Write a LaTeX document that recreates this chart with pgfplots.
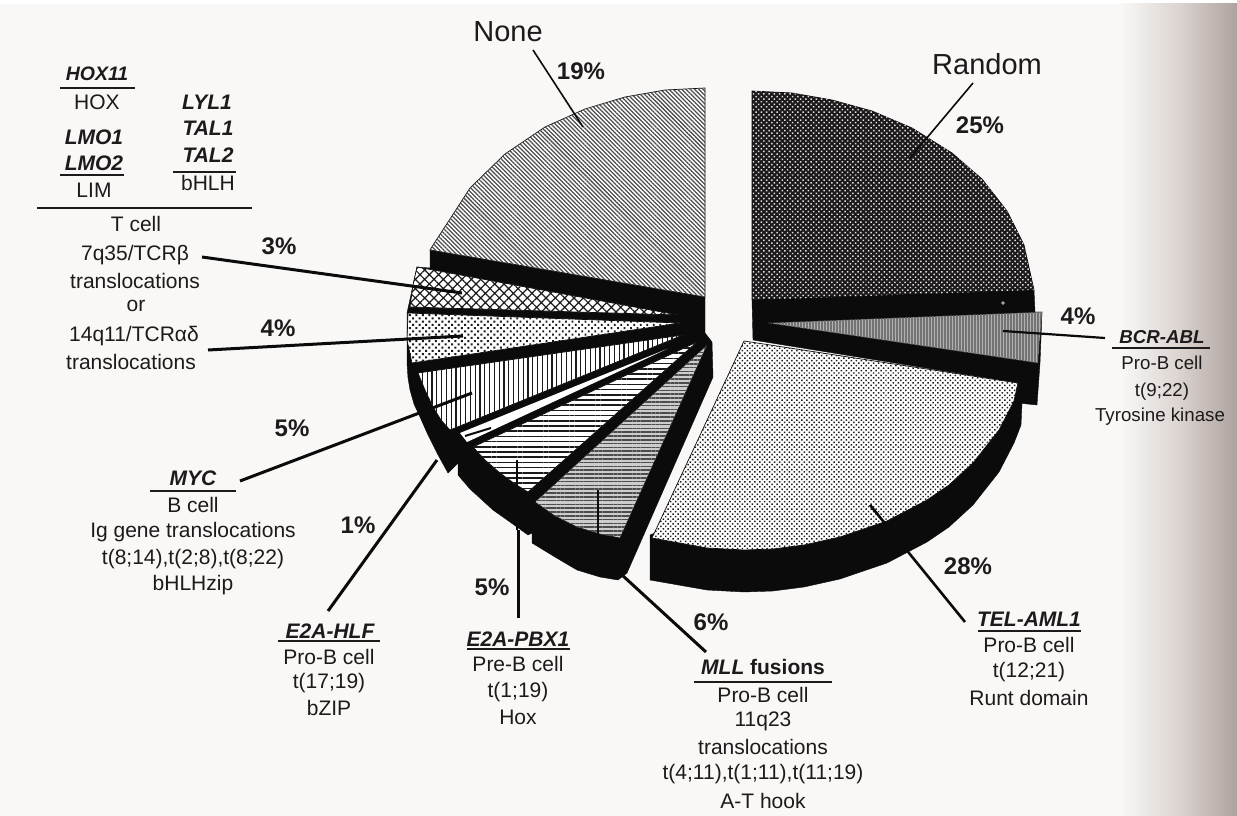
\documentclass[border=0pt]{standalone}
\usepackage{fontspec}
\setmainfont{Liberation Sans}
\usepackage{pgfplots}
\pgfplotsset{compat=1.18}
\usetikzlibrary{patterns.meta}
\definecolor{paper}{HTML}{F9F8F6}
\definecolor{ink}{HTML}{1C1A1A}
\definecolor{deep}{HTML}{0C0B0B}
\definecolor{shadeA}{HTML}{DDD5D2}
\definecolor{shadeB}{HTML}{ADA29E}

% One slice of the pie: white ground, outline and a hatch on top
\newcommand{\slice}[2]{%
  \addplot[draw=deep, line width=0.7pt, fill=white] coordinates {#2} -- cycle;
  \addplot[draw=none, #1] coordinates {#2} -- cycle;
}
\newcommand{\solid}[1]{\addplot[draw=deep, line width=0.4pt, fill=deep] coordinates {#1} -- cycle;}
\newcommand{\leader}[2]{\addplot[draw=deep, line width=#1] coordinates {#2};}

\tikzset{
  lbl/.style={font=\fontsize{21}{23}\selectfont, text=ink, anchor=center, inner sep=0pt},
  gene/.style={font=\fontsize{21}{23}\selectfont\bfseries\itshape, text=ink, anchor=center, inner sep=0pt},
  pct/.style={font=\fontsize{24}{26}\selectfont\bfseries, text=ink, anchor=center, inner sep=0pt},
  big/.style={font=\fontsize{29}{31}\selectfont, text=ink, anchor=center, inner sep=0pt},
  rule/.style={draw=ink, line width=1.3pt},
}

\begin{document}
\begin{tikzpicture}
\begin{axis}[
  width=1237pt, height=816pt, scale only axis,
  xmin=0, xmax=1237, ymin=0, ymax=816, y dir=reverse,
  enlargelimits=false, hide axis, clip=true,
]
% page and the shadow of the book's gutter
\fill[white] (0,0) rectangle (1237,816);
\fill[paper] (0,4) rectangle (1237,816);
\fill[left color=paper, right color=shadeA] (1120,4) rectangle (1177,816);
\fill[left color=shadeA, right color=shadeB] (1177,4) rectangle (1237,816);

% depth of the left half of the pie
\solid{(430,250)(705,297)(705,333)(712,342)(713,377)(627,573)(618,580)(600,577)(577,570)(555,557)(532,543)(532,533)(528,535)(510,522)(493,510)(470,489)(458,475)(458,463)(448,473)(437,453)(428,435)(420,417)(414,404)(410,390)(408,378)(407,363)(407,313)(417,267)(430,268)}
% depth of the right half, above and below BCR-ABL
\solid{(752,300)(1034,290)(1035,312)(1042,312)(1040,363)(1037,405)(1018,403)(1018,383)(753,340)}
% depth of TEL-AML1
\solid{(650,535)(650,580)(707,590)(744,592)(773,591)(804,587)(840,579)(887,563)(927,542)(949,527)(973,505)(999,472)(1014,443)(1021,425)(1022,403)(1018,383)}

% Random 25
\addplot[draw=deep, line width=0.7pt, fill=ink] coordinates {(752,91)(792,93)(832,100)(872,111)(912,128)(952,153)(982,179)(1007,211)(1024,245)(1034,290)(752,300)} -- cycle;
\addplot[draw=none, pattern={Dots[radius=1.05pt, distance=3.7pt, angle=45]}, pattern color=white!88!black] coordinates {(752,91)(792,93)(832,100)(872,111)(912,128)(952,153)(982,179)(1007,211)(1024,245)(1034,290)(752,300)} -- cycle;
% None 19
\slice{pattern={Lines[angle=-45, distance=3pt, line width=1.25pt]}, pattern color=black!70}{(705,88)(665,90)(625,97)(585,109)(545,127)(505,154)(470,188)(450,219)(435,242)(430,250)(705,297)}
% T cell, 3 and 4
\slice{pattern={Hatch[angle=45, distance=6.6pt, line width=1.2pt]}, pattern color=ink}{(417,267)(413,285)(410,307)(678,315)}
\slice{pattern={Dots[radius=1.3pt, distance=4.6pt, angle=45]}, pattern color=ink}{(408,313)(407,340)(412,363)(680,323)}
% MYC 5
\slice{pattern={Lines[angle=90, distance=4.8pt, line width=1.25pt]}, pattern color=ink}{(418,373)(425,390)(433,407)(441,420)(450,430)(683,335)}
% E2A-HLF 1
\addplot[draw=none, fill=white] coordinates {(460,433)(467,442)(667,349)} -- cycle;
% E2A-PBX1 5
\slice{pattern={Lines[angle=0, distance=5.2pt, line width=1.5pt]}, pattern color=ink}{(473,447)(485,460)(500,473)(515,484)(528,492)(697,342)}
% MLL 6
\addplot[draw=deep, line width=0.5pt, fill=black!20] coordinates {(535,502)(555,516)(577,527)(600,534)(620,538)(707,345)} -- cycle;
\addplot[draw=none, pattern={Lines[angle=0, distance=3.8pt, line width=1.5pt]}, pattern color=black!70] coordinates {(535,502)(555,516)(577,527)(600,534)(620,538)(707,345)} -- cycle;
% BCR-ABL 4
\addplot[draw=deep, line width=0.5pt, fill=black!30] coordinates {(768,323)(1042,312)(1038,363)} -- cycle;
\addplot[draw=none, pattern={Lines[angle=90, distance=3pt, line width=1.2pt]}, pattern color=black!55] coordinates {(768,323)(1042,312)(1038,363)} -- cycle;
% TEL-AML1 28
\slice{pattern={Dots[radius=1.05pt, distance=3.5pt, angle=45]}, pattern color=ink}{(744,341)(1018,383)(1014,401)(999,430)(973,463)(949,485)(927,500)(887,521)(840,537)(804,545)(773,549)(744,550)(707,548)(652,538)}

% small speck in the depth of Random
\addplot[only marks, mark=*, mark size=1.8pt, mark options={fill=black!35, draw=black!60}] coordinates {(1003,303)};

% leader lines
\leader{1.6pt}{(533,50)(583,127)}
\leader{1.6pt}{(973,83)(910,158)}
\leader{2.2pt}{(1003,331)(1105,338)}
\leader{3pt}{(202,257)(462,293)}
\leader{3pt}{(208,350)(463,336)}
\leader{3pt}{(240,481)(472,393)}
\leader{3pt}{(328,611)(437,460)}
\leader{2pt}{(465,436)(491,428)}
\leader{3pt}{(518,618)(518,530)}
\leader{2pt}{(517,530)(517,460)}
\leader{2pt}{(598,490)(598,535)}
\leader{3pt}{(622,575)(706,652)}
\leader{2.6pt}{(870,505)(965,622)}

% headings
\node[big] at (508,32) {None};
\node[big] at (987,64) {Random};

% percentages
\node[pct] at (581,71) {19\%};
\node[pct] at (980,125) {25\%};
\node[pct] at (1078,316) {4\%};
\node[pct] at (968,566) {28\%};
\node[pct] at (711,622) {6\%};
\node[pct] at (492,587) {5\%};
\node[pct] at (358,525) {1\%};
\node[pct] at (292,428) {5\%};
\node[pct] at (278,328) {4\%};
\node[pct] at (279,246) {3\%};

% T cell block
\node[gene, font=\fontsize{19.5}{22}\selectfont\bfseries\itshape] at (97,74) {HOX11};
\draw[rule] (60,88) -- (135,88);
\node[lbl] at (97,102) {HOX};
\node[gene] at (94,137) {LMO1};
\node[gene] at (94,163) {LMO2};
\draw[rule] (60,175) -- (124,175);
\node[lbl] at (94,190) {LIM};
\node[gene] at (207,102) {LYL1};
\node[gene] at (208,128) {TAL1};
\node[gene] at (208,155) {TAL2};
\draw[rule] (173,172) -- (236,172);
\node[lbl] at (208,183) {bHLH};
\draw[rule] (37,208) -- (252,208);
\node[lbl] at (136,224) {T cell};
\node[lbl] at (135,255) {7q35/TCRβ};
\node[lbl] at (135,281) {translocations};
\node[lbl] at (136,306) {or};
\node[lbl] at (134,336) {14q11/TCRαδ};
\node[lbl] at (131,362) {translocations};

% BCR-ABL, set a little smaller than the rest
\begin{scope}[every node/.append style={font=\fontsize{18.7}{21}\selectfont}]
\node[text=ink, inner sep=0pt, font=\fontsize{18.7}{21}\selectfont\bfseries\itshape] at (1162,337) {BCR-ABL};
\node[text=ink, inner sep=0pt] at (1162,363) {Pro-B cell};
\node[text=ink, inner sep=0pt] at (1162,392) {t(9;22)};
\node[text=ink, inner sep=0pt] at (1160,417) {Tyrosine kinase};
\end{scope}
\draw[rule] (1112,348) -- (1210,348);

% MYC
\node[gene] at (193,478) {MYC};
\draw[rule] (150,491) -- (236,491);
\node[lbl] at (193,505) {B cell};
\node[lbl] at (193,532) {Ig gene translocations};
\node[lbl] at (193,559) {t(8;14),t(2;8),t(8;22)};
\node[lbl] at (193,585) {bHLHzip};

% E2A-HLF
\node[gene] at (330,631) {E2A-HLF};
\draw[rule] (278,641) -- (380,641);
\node[lbl] at (329,657) {Pro-B cell};
\node[lbl] at (329,683) {t(17;19)};
\node[lbl] at (329,708) {bZIP};

% E2A-PBX1
\node[gene] at (518,639) {E2A-PBX1};
\draw[rule] (467,649) -- (570,649);
\node[lbl] at (518,664) {Pre-B cell};
\node[lbl] at (518,692) {t(1;19)};
\node[lbl] at (518,717) {Hox};

% MLL
\node[gene, font=\fontsize{21}{23}\selectfont\bfseries] at (763,667) {\textit{MLL} fusions};
\draw[rule] (694,682) -- (832,682);
\node[lbl] at (763,695) {Pro-B cell};
\node[lbl] at (763,721) {11q23};
\node[lbl] at (763,747) {translocations};
\node[lbl] at (763,774) {t(4;11),t(1;11),t(11;19)};
\node[lbl] at (763,801) {A-T hook};

% TEL-AML1
\node[gene] at (1029,619) {TEL-AML1};
\draw[rule] (978,631) -- (1081,631);
\node[lbl] at (1029,645) {Pro-B cell};
\node[lbl] at (1029,672) {t(12;21)};
\node[lbl] at (1029,698) {Runt domain};
\end{axis}
\end{tikzpicture}
\end{document}
